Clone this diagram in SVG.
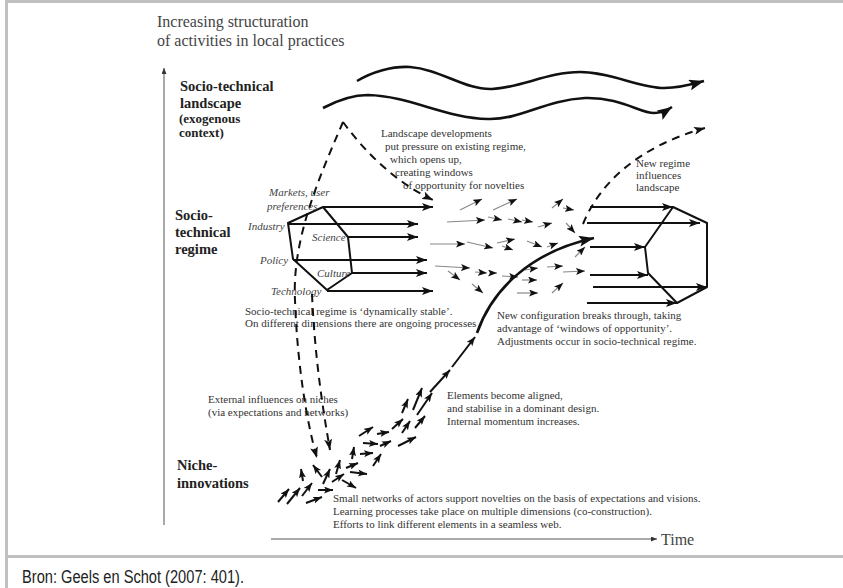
<svg xmlns="http://www.w3.org/2000/svg" width="843" height="588" viewBox="0 0 843 588">
  <style>
    .frame { fill: #c0c0c0; }
    .title { font-family: "Liberation Serif", "Times New Roman", serif; font-size: 16px; fill: #444; }
    .lvl { font-family: "Liberation Serif", "Times New Roman", serif; font-size: 14.5px; font-weight: bold; fill: #222; }
    .lvls { font-family: "Liberation Serif", "Times New Roman", serif; font-size: 13px; font-weight: bold; fill: #222; }
    .note { font-family: "Liberation Serif", "Times New Roman", serif; font-size: 11px; fill: #333; }
    .dim { font-family: "Liberation Serif", "Times New Roman", serif; font-size: 11px; font-style: italic; fill: #444; }
    .src { font-family: "Liberation Sans Narrow", "Liberation Sans", Arial, sans-serif; font-size: 17.5px; fill: #222; }
    .hex { fill: none; stroke: #111; stroke-width: 2; stroke-linejoin: round; }
    .thick { fill: none; stroke: #111; stroke-width: 2; marker-end: url(#ah); }
    .wave { fill: none; stroke: #111; stroke-width: 2.6; marker-end: url(#ahb); }
    .dash { fill: none; stroke: #111; stroke-width: 2; stroke-dasharray: 8 6; marker-end: url(#ah); }
    .thin { fill: none; stroke: #888; stroke-width: 1.2; marker-end: url(#ahs); }
    .niche { fill: none; stroke: #111; stroke-width: 2; marker-end: url(#ahs); }
    .axis { fill: none; stroke: #555; stroke-width: 1; marker-end: url(#ahx); }
    .curve { fill: none; stroke: #111; stroke-width: 2.6; marker-end: url(#ahb); }
  </style>
  <defs>
    <marker id="ah" markerUnits="userSpaceOnUse" markerWidth="11" markerHeight="8" refX="11" refY="4" orient="auto">
      <path d="M0,0 L11,4 L0,8 L2.5,4 z" fill="#111"/>
    </marker>
    <marker id="ahs" markerUnits="userSpaceOnUse" markerWidth="9" markerHeight="7" refX="9" refY="3.5" orient="auto">
      <path d="M0,0 L9,3.5 L0,7 L2,3.5 z" fill="#111"/>
    </marker>
    <marker id="ahb" markerUnits="userSpaceOnUse" markerWidth="15" markerHeight="11" refX="15" refY="5.5" orient="auto">
      <path d="M0,0 L15,5.5 L0,11 L3,5.5 z" fill="#111"/>
    </marker>
    <marker id="ahx" markerUnits="userSpaceOnUse" markerWidth="6" markerHeight="5" refX="6" refY="2.5" orient="auto">
      <path d="M0,0 L6,2.5 L0,5 z" fill="#333"/>
    </marker>
  </defs>

  <rect width="843" height="588" fill="#fff"/>

  <!-- outer frame -->
  <g id="frame">
    <rect class="frame" x="5" y="0" width="838" height="3"/>
    <rect class="frame" x="5" y="0" width="3" height="588"/>
    <rect class="frame" x="5" y="555" width="838" height="3"/>
  </g>

  <!-- axes -->
  <g id="axes">
    <line class="axis" x1="164" y1="525" x2="164" y2="68"/>
    <line class="axis" x1="271" y1="539" x2="657" y2="539"/>
    <text class="title" x="661" y="545">Time</text>
    <text class="title" x="157" y="27">Increasing structuration</text>
    <text class="title" x="157" y="46">of activities in local practices</text>
  </g>

  <!-- level labels -->
  <g id="landscape-label">
    <text class="lvl" x="180" y="91">Socio-technical</text>
    <text class="lvl" x="180" y="108">landscape</text>
    <text class="lvls" x="179" y="123">(exogenous</text>
    <text class="lvls" x="179" y="137">context)</text>
  </g>
  <g id="regime-label">
    <text class="lvl" x="175" y="220">Socio-</text>
    <text class="lvl" x="175" y="237">technical</text>
    <text class="lvl" x="175" y="254">regime</text>
  </g>
  <g id="niche-label">
    <text class="lvl" x="177" y="470">Niche-</text>
    <text class="lvl" x="177" y="488">innovations</text>
  </g>

  <!-- regime hexagon with its dimensions -->
  <g id="regime-hexagon">
    <polygon class="hex" points="323,207 348,237 352,273 327,290 293,259 288,223"/>
    <text class="dim" x="269" y="196">Markets, user</text>
    <text class="dim" x="267" y="210">preferences</text>
    <text class="dim" x="248" y="230">Industry</text>
    <text class="dim" x="312" y="241">Science</text>
    <text class="dim" x="260" y="264">Policy</text>
    <text class="dim" x="317" y="277">Culture</text>
    <text class="dim" x="271" y="295">Technology</text>
  </g>

  <!-- new regime hexagon -->
  <g id="new-regime-hexagon">
    <polygon class="hex" points="673,207 707,223 707,287 677,303 648,273 645,247"/>
  </g>

  <!-- annotations -->
  <g id="landscape-note">
    <text class="note" x="381" y="137">Landscape  developments</text>
    <text class="note" x="385" y="150">put pressure on existing regime,</text>
    <text class="note" x="390" y="163">which opens up,</text>
    <text class="note" x="395" y="176">creating windows</text>
    <text class="note" x="403" y="189">of opportunity for novelties</text>
  </g>
  <g id="new-regime-note">
    <text class="note" x="636" y="167">New  regime</text>
    <text class="note" x="636" y="179">influences</text>
    <text class="note" x="636" y="191">landscape</text>
  </g>
  <g id="stable-note">
    <text class="note" x="245" y="315">Socio-technical regime  is ‘dynamically stable’.</text>
    <text class="note" x="245" y="327">On different dimensions there are ongoing processes</text>
  </g>
  <g id="breakthrough-note">
    <text class="note" x="497" y="319">New configuration breaks through, taking</text>
    <text class="note" x="497" y="332">advantage of ‘windows of opportunity’.</text>
    <text class="note" x="497" y="345">Adjustments occur in socio-technical regime.</text>
  </g>
  <g id="external-note">
    <text class="note" x="208" y="403">External influences on niches</text>
    <text class="note" x="208" y="416">(via expectations and networks)</text>
  </g>
  <g id="aligned-note">
    <text class="note" x="447" y="399">Elements become aligned,</text>
    <text class="note" x="447" y="412">and stabilise in a dominant design.</text>
    <text class="note" x="447" y="425">Internal momentum increases.</text>
  </g>
  <g id="niche-note">
    <text class="note" x="333" y="502">Small networks of actors support novelties on the basis of expectations and visions.</text>
    <text class="note" x="333" y="515">Learning processes take place on multiple dimensions (co-construction).</text>
    <text class="note" x="333" y="528">Efforts to link different elements in a seamless web.</text>
  </g>

  <!-- connectors -->
  <g id="connectors">
    <!-- landscape waves -->
    <path class="wave" d="M357,81 C372,72 392,66 410,67 C440,69 465,90 492,89 C520,88 548,72 580,72 C610,72 640,88 664,88 C678,88 690,85 704,81"/>
    <path class="wave" d="M323,108 C338,100 352,95 368,95 C410,96 445,118 488,119 C520,120 545,100 585,98 C620,97 640,113 654,113 C661,113 666,111 672,107"/>

    <!-- landscape pressure (dashed) -->
    <path class="dash" d="M343,122 C365,152 395,182 433,200"/>
    <path class="dash" d="M343,122 C318,180 292,240 295,300 C297,360 306,420 317,458"/>
    <path class="dash" d="M312,294 C315,360 323,410 330,450"/>
    <path class="dash" d="M583,224 C600,182 640,146 705,128"/>

    <!-- regime dimensions -->
    <line class="thick" x1="323" y1="207" x2="433" y2="207"/>
    <line class="thick" x1="288" y1="224" x2="418" y2="224"/>
    <line class="thick" x1="348" y1="237" x2="418" y2="237"/>
    <line class="thick" x1="293" y1="260" x2="427" y2="260"/>
    <line class="thick" x1="352" y1="273" x2="427" y2="273"/>
    <line class="thick" x1="327" y1="291" x2="433" y2="291"/>

    <!-- new regime dimensions -->
    <line class="thick" x1="590" y1="207" x2="673" y2="207"/>
    <line class="thick" x1="587" y1="223" x2="700" y2="223"/>
    <line class="thick" x1="590" y1="247" x2="645" y2="247"/>
    <line class="thick" x1="590" y1="275" x2="648" y2="275"/>
    <line class="thick" x1="593" y1="287" x2="707" y2="287"/>
    <line class="thick" x1="587" y1="303" x2="677" y2="303"/>

    <!-- dynamics inside the regime -->
    <line class="thin" x1="460" y1="210" x2="482" y2="199"/>
    <line class="thin" x1="493" y1="210" x2="517" y2="199"/>
    <line class="thin" x1="447" y1="222" x2="485" y2="220"/>
    <line class="thin" x1="488" y1="217" x2="502" y2="220"/>
    <line class="thin" x1="508" y1="219" x2="522" y2="222"/>
    <line class="thin" x1="522" y1="220" x2="533" y2="222"/>
    <line class="thin" x1="538" y1="227" x2="552" y2="223"/>
    <line class="thin" x1="552" y1="208" x2="563" y2="199"/>
    <line class="thin" x1="563" y1="208" x2="574" y2="210"/>
    <line class="thin" x1="566" y1="223" x2="575" y2="233"/>
    <line class="thin" x1="430" y1="244" x2="465" y2="244"/>
    <line class="thin" x1="467" y1="242" x2="493" y2="248"/>
    <line class="thin" x1="497" y1="243" x2="515" y2="239"/>
    <line class="thin" x1="502" y1="246" x2="513" y2="250"/>
    <line class="thin" x1="527" y1="241" x2="542" y2="247"/>
    <line class="thin" x1="547" y1="247" x2="558" y2="243"/>
    <line class="thin" x1="575" y1="257" x2="585" y2="247"/>
    <line class="thin" x1="435" y1="266" x2="470" y2="268"/>
    <line class="thin" x1="448" y1="271" x2="460" y2="280"/>
    <line class="thin" x1="475" y1="272" x2="487" y2="273"/>
    <line class="thin" x1="490" y1="273" x2="497" y2="273"/>
    <line class="thin" x1="502" y1="276" x2="518" y2="277"/>
    <line class="thin" x1="525" y1="270" x2="538" y2="268"/>
    <line class="thin" x1="547" y1="267" x2="563" y2="266"/>
    <line class="thin" x1="563" y1="272" x2="585" y2="271"/>
    <line class="thin" x1="472" y1="284" x2="483" y2="293"/>
    <line class="thin" x1="522" y1="280" x2="537" y2="280"/>
    <line class="thin" x1="517" y1="293" x2="538" y2="293"/>
    <line class="thin" x1="552" y1="293" x2="563" y2="283"/>

    <!-- breakthrough trajectory -->
    <path class="curve" d="M477,333 C492,290 530,252 594,238"/>

    <!-- niche activity -->
    <line class="niche" x1="278" y1="502" x2="289" y2="489"/>
    <line class="niche" x1="287" y1="504" x2="300" y2="488"/>
    <line class="niche" x1="302" y1="496" x2="312" y2="483"/>
    <line class="niche" x1="306" y1="503" x2="322" y2="497"/>
    <line class="niche" x1="318" y1="490" x2="333" y2="490"/>
    <line class="niche" x1="303" y1="481" x2="301" y2="469"/>
    <line class="niche" x1="322" y1="477" x2="313" y2="465"/>
    <line class="niche" x1="323" y1="484" x2="330" y2="469"/>
    <line class="niche" x1="332" y1="482" x2="344" y2="474"/>
    <line class="niche" x1="342" y1="480" x2="356" y2="488"/>
    <line class="niche" x1="336" y1="474" x2="340" y2="460"/>
    <line class="niche" x1="346" y1="468" x2="358" y2="463"/>
    <line class="niche" x1="350" y1="472" x2="367" y2="474"/>
    <line class="niche" x1="352" y1="459" x2="354" y2="447"/>
    <line class="niche" x1="360" y1="454" x2="373" y2="453"/>
    <line class="niche" x1="373" y1="466" x2="381" y2="454"/>
    <line class="niche" x1="363" y1="443" x2="378" y2="444"/>
    <line class="niche" x1="380" y1="446" x2="391" y2="441"/>
    <line class="niche" x1="359" y1="436" x2="373" y2="427"/>
    <line class="niche" x1="377" y1="434" x2="389" y2="432"/>
    <line class="niche" x1="398" y1="446" x2="416" y2="437"/>
    <line class="niche" x1="392" y1="429" x2="403" y2="419"/>
    <line class="niche" x1="402" y1="433" x2="410" y2="421"/>
    <line class="niche" x1="415" y1="428" x2="425" y2="416"/>
    <line class="niche" x1="402" y1="413" x2="408" y2="399"/>
    <line class="niche" x1="413" y1="410" x2="422" y2="388"/>
    <line class="niche" x1="417" y1="415" x2="432" y2="393"/>
    <line class="niche" x1="430" y1="392" x2="450" y2="370"/>
    <line class="niche" x1="452" y1="367" x2="475" y2="337"/>
  </g>

  <!-- source line -->
  <g id="source">
    <text class="src" x="22" y="583" textLength="222" lengthAdjust="spacingAndGlyphs">Bron: Geels en Schot (2007: 401).</text>
  </g>
</svg>
